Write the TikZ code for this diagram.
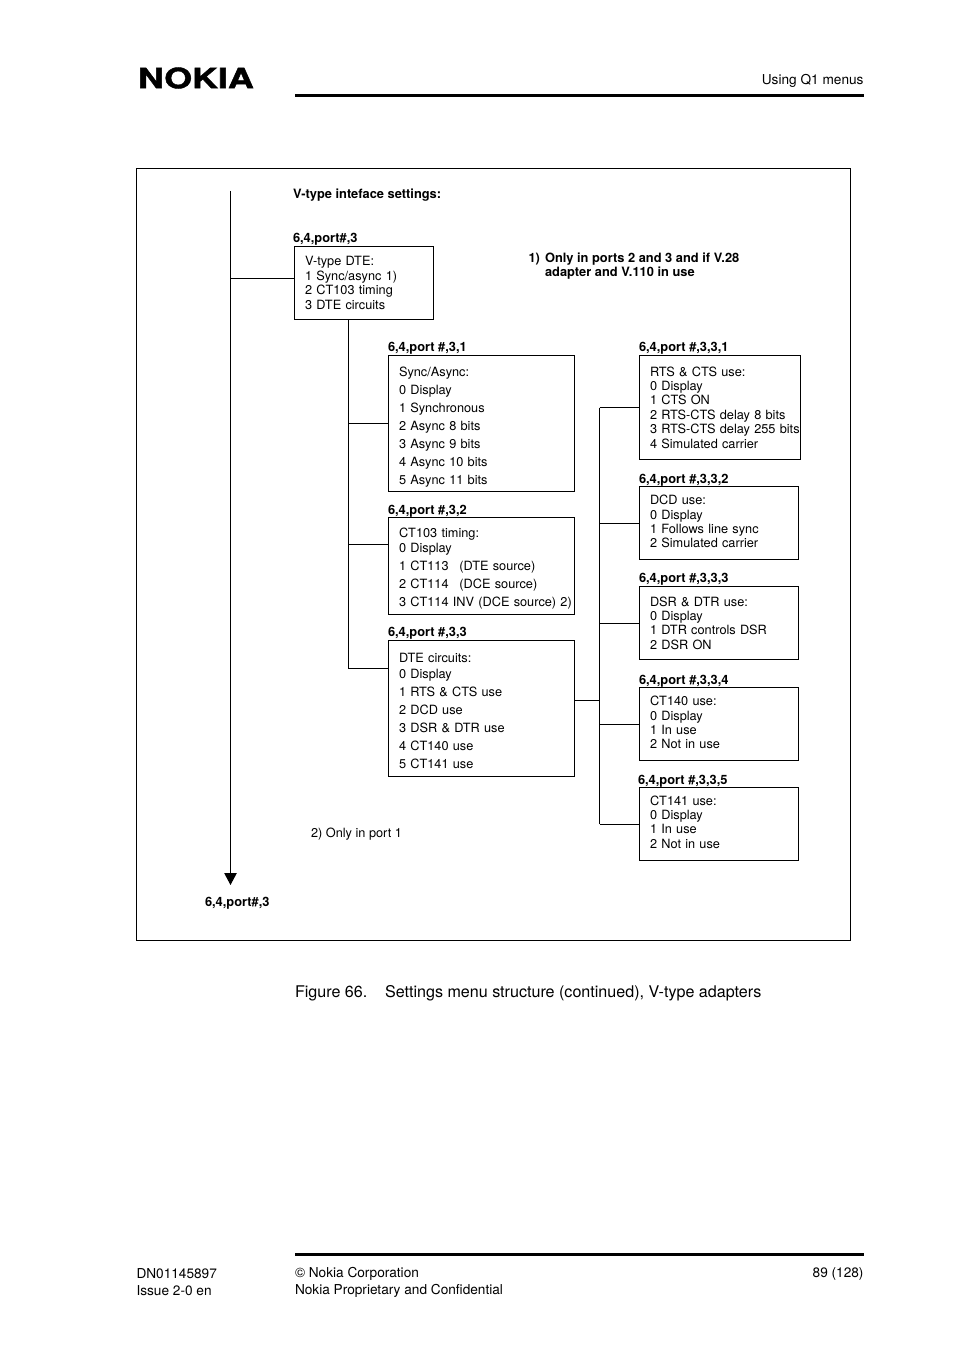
\documentclass[tikz,border=0pt]{standalone}
\usepackage{fontspec}
\setmainfont{TeX Gyre Heros}
\usetikzlibrary{arrows.meta}
\tikzset{
	menubox/.style={draw, anchor=north west, inner ysep=0pt, inner xsep=10.5pt, align=left,
	  font=\fontsize{12.75}{14.4}\selectfont},
	widebox/.style={menubox, font=\fontsize{12.75}{18}\selectfont},
	textdown/.style={execute at begin node={\rule{0pt}{\dimexpr 9.2pt+#1\relax}}},
	textup/.style={execute at end node={\rule[-#1]{0pt}{0pt}}},
	pathlabel/.style={anchor=west, inner sep=0pt, yshift=-1.5pt, font=\fontsize{12.85}{14}\selectfont\bfseries},
	pagetext/.style={anchor=west, inner sep=0pt, yshift=-1.2pt, font=\fontsize{13.65}{15}\selectfont}
}
\begin{document}
\begin{tikzpicture}[x=1pt, y=-1pt, line width=1pt, every node/.style={outer sep=0pt}]
	\useasboundingbox (0,0) rectangle (954,1351);
	% page furniture
	\node[anchor=west, inner sep=0pt, xscale=1.28, transform shape, font=\fontsize{28}{28}\selectfont\bfseries\addfontfeature{FakeBold=1.5}] (logo) at (138,78) {NOKIA};
	\node[pagetext, anchor=east] (chapter) at (863.5,80) {Using Q1 menus};
	\draw[line width=3pt] (295,96) -- (864,96);
	\draw[line width=3pt] (295,1254) -- (864,1254);
	\node[pagetext] (docnum) at (136.5,1272) {DN01145897};
	\node[pagetext] (issue) at (136.5,1289) {Issue 2-0 en};
	\node[pagetext] (corp) at (295,1272.5) {© Nokia Corporation};
	\node[pagetext] (conf) at (295,1289.5) {Nokia Proprietary and Confidential};
	\node[pagetext, anchor=east] (pagenum) at (863.5,1272.5) {89 (128)};
	\node[anchor=west, inner sep=0pt, yshift=-2pt, font=\fontsize{16.1}{18}\selectfont] (caption) at (295,991.5) {Figure 66.\hspace{1.1em}Settings menu structure (continued), V-type adapters};
	\draw (136.5,168.5) rectangle (850.5,940.5);
	% headings and notes
	\node[pathlabel] (title) at (293,193.5) {V-type inteface settings:};
	\node[pathlabel] (lbltop) at (293,238) {6,4,port\#,3};
	\node[pathlabel] (note1mark) at (528.5,257.5) {1)};
	\node[pathlabel, align=left, anchor=north west] (note1) at (545,251.5) {Only in ports 2 and 3 and if V.28\\adapter and V.110 in use};
	\node[pagetext, font=\fontsize{12.75}{14.4}\selectfont, yshift=-.8pt] (note2) at (311,832.5) {2) Only in port 1};
	\node[pathlabel] (lblend) at (205,901.5) {6,4,port\#,3};
	\node[pathlabel] (lblsync) at (388,347) {6,4,port \#,3,1};
	\node[pathlabel] (lblct) at (388,510) {6,4,port \#,3,2};
	\node[pathlabel] (lblcirc) at (388,632) {6,4,port \#,3,3};
	\node[pathlabel] (lblrts) at (639,347) {6,4,port \#,3,3,1};
	\node[pathlabel] (lbldcd) at (639,479) {6,4,port \#,3,3,2};
	\node[pathlabel] (lbldsr) at (639,578) {6,4,port \#,3,3,3};
	\node[pathlabel] (lbl140) at (639,680) {6,4,port \#,3,3,4};
	\node[pathlabel] (lbl141) at (638,780) {6,4,port \#,3,3,5};
	% menu boxes
	\node[menubox, text width=118pt, minimum height=73pt] (dte) at (294.5,246.5)
	  {V-type DTE:\\1 Sync/async 1)\\2 CT103 timing\\3 DTE circuits};
	\node[widebox, textdown=7.5pt, text width=165pt, minimum height=136pt] (sync) at (388.5,355.5)
	  {Sync/Async:\\0 Display\\1 Synchronous\\2 Async 8 bits\\3 Async 9 bits\\4 Async 10 bits\\5 Async 11 bits};
	\node[widebox, textdown=5pt, text width=165pt, minimum height=97pt] (ct) at (388.5,517.5)
	  {CT103 timing:\\[-3pt]0 Display\\1 CT113\hspace{.85em}(DTE source)\\2 CT114\hspace{.85em}(DCE source)\\\mbox{3 CT114 INV (DCE source) 2)}};
	\node[widebox, textdown=5pt, text width=165pt, minimum height=136pt] (circ) at (388.5,640.5)
	  {DTE circuits:\\[-2pt]0 Display\\1 RTS \& CTS use\\2 DCD use\\3 DSR \& DTR use\\4 CT140 use\\5 CT141 use};
	\node[menubox, text width=140pt, minimum height=104pt] (rts) at (639.5,355.5)
	  {RTS \& CTS use:\\0 Display\\1 CTS ON\\2 RTS-CTS delay 8 bits\\\mbox{3 RTS-CTS delay 255 bits}\\4 Simulated carrier};
	\node[menubox, textup=3pt, text width=138pt, minimum height=73pt] (dcd) at (639.5,486.5)
	  {DCD use:\\0 Display\\1 Follows line sync\\2 Simulated carrier};
	\node[menubox, text width=138pt, minimum height=73pt] (dsr) at (639.5,586.5)
	  {DSR \& DTR use:\\0 Display\\1 DTR controls DSR\\2 DSR ON};
	\node[menubox, textup=3pt, text width=138pt, minimum height=73pt] (u140) at (639.5,687.5)
	  {CT140 use:\\0 Display\\1 In use\\2 Not in use};
	\node[menubox, textup=4pt, text width=138pt, minimum height=73pt] (u141) at (639.5,787.5)
	  {CT141 use:\\0 Display\\1 In use\\2 Not in use};
	% connectors
	\coordinate (mainstart) at (230.5,191);
	\coordinate (mainend) at (230.5,885);
	\coordinate (mainjoin) at (230.5,278.5);
	\coordinate (dtebus) at (348.5,668.5);
	\coordinate (ctjoin) at (348.5,544.5);
	\coordinate (busout) at (575,700.5);
	\coordinate (bustop) at (599.5,407.5);
	\coordinate (busend) at (599.5,824);
	\draw[-{Triangle[length=12pt,width=12.5pt]}] (mainstart) -- (mainend);
	\draw (mainjoin) -- (mainjoin -| dte.west);
	\draw (dtebus |- dte.south) -- (dtebus) -- (dtebus -| circ.west);
	\draw (dtebus |- sync.west) -- (sync.west);
	\draw (ctjoin) -- (ctjoin -| ct.west);
	\draw (bustop) -- (busend);
	\draw (busout) -- (busout -| bustop);
	\draw (bustop |- rts.west) -- (rts.west);
	\draw (bustop |- dcd.west) -- (dcd.west);
	\draw (bustop |- dsr.west) -- (dsr.west);
	\draw (bustop |- u140.west) -- (u140.west);
	\draw (bustop |- u141.west) -- (u141.west);
\end{tikzpicture}
\end{document}
